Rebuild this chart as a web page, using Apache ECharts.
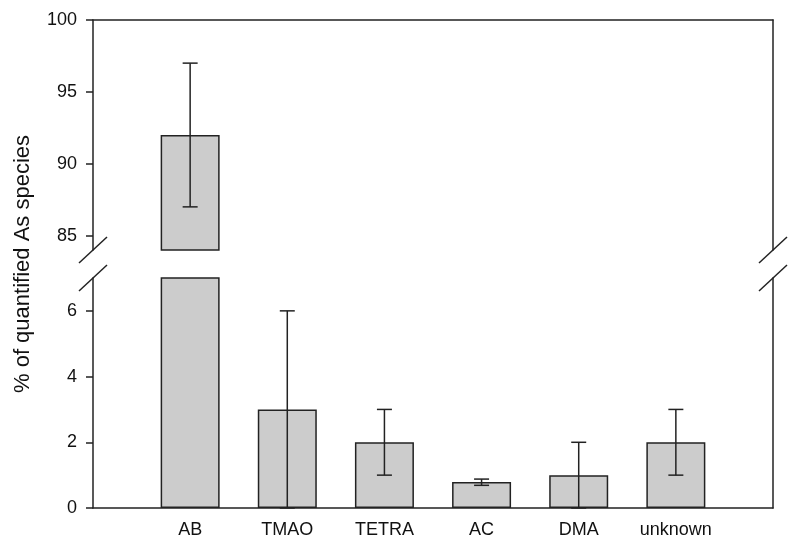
<!DOCTYPE html>
<html>
<head>
<meta charset="utf-8">
<script src="https://cdn.jsdelivr.net/npm/echarts@6/dist/echarts.min.js"></script>
<style>
  html, body { margin: 0; padding: 0; background: #fff; }
  #chart { width: 800px; height: 548px; }
</style>
</head>
<body>
<div id="chart"></div>
<script>
// data
const categories = ['AB', 'TMAO', 'TETRA', 'AC', 'DMA', 'unknown'];
const means = [92, 3, 2, 0.79, 1, 2];
const errLow = [87, 0, 1, 0.69, 0, 1];
const errHigh = [97, 6, 3, 0.88, 2, 3];
const upperTicks = [85, 90, 95, 100];
const lowerTicks = [0, 2, 4, 6];
const upperRange = [84, 100];
const lowerRange = [0, 7];

// layout
const L = 93, R = 773, T0 = 20, B0 = 250, T1 = 278, B1 = 508;
const ink = '#222';
const font = '"Liberation Sans", Arial, sans-serif';

// pad the category axis with an empty slot on each side
const axisCats = [''].concat(categories, ['']);
const pad = arr => ['-'].concat(arr, ['-']);

const upperBars = pad(means.map(v => (v > upperRange[0] ? v : '-')));
const lowerBars = pad(means);
const upperErr = [];
const lowerErr = [];
categories.forEach((c, i) => {
  if (errLow[i] >= upperRange[0]) upperErr.push([i + 1, errLow[i], errHigh[i]]);
  else if (errHigh[i] <= lowerRange[1]) lowerErr.push([i + 1, errLow[i], errHigh[i]]);
});

function errorItem(params, api) {
  const x = api.value(0);
  const lo = api.coord([x, api.value(1)]);
  const hi = api.coord([x, api.value(2)]);
  const half = 7.5;
  const st = { stroke: ink, lineWidth: 1.5 };
  return {
    type: 'group',
    children: [
      { type: 'line', shape: { x1: lo[0], y1: lo[1], x2: hi[0], y2: hi[1] }, style: st },
      { type: 'line', shape: { x1: hi[0] - half, y1: hi[1], x2: hi[0] + half, y2: hi[1] }, style: st },
      { type: 'line', shape: { x1: lo[0] - half, y1: lo[1], x2: lo[0] + half, y2: lo[1] }, style: st }
    ]
  };
}

const lineStyle = { color: ink, width: 1.5 };

function leftAxis(grid, range, ticks) {
  return {
    type: 'value', gridIndex: grid, position: 'left',
    min: range[0], max: range[1],
    axisLine: { show: true, lineStyle },
    axisTick: { show: true, inside: false, length: 7, lineStyle, customValues: ticks },
    axisLabel: { customValues: ticks, margin: 16, color: '#111', fontSize: 18, fontFamily: font },
    splitLine: { show: false }
  };
}
function rightAxis(grid, range) {
  return {
    type: 'value', gridIndex: grid, position: 'right',
    min: range[0], max: range[1],
    axisLine: { show: true, lineStyle },
    axisTick: { show: false }, axisLabel: { show: false }, splitLine: { show: false }
  };
}

const barStyle = { color: '#cccccc', borderColor: ink, borderWidth: 1.5 };

const slashes = [];
[L, R].forEach(x => {
  [B0, T1].forEach(y => {
    slashes.push({
      type: 'line',
      shape: { x1: x - 14, y1: y + 13, x2: x + 14, y2: y - 13 },
      style: { stroke: ink, lineWidth: 1.5 }
    });
  });
});

const chart = echarts.init(document.getElementById('chart'));
chart.setOption({
  animation: false,
  backgroundColor: '#fff',
  grid: [
    { left: L, right: 800 - R, top: T0, height: B0 - T0 },
    { left: L, right: 800 - R, top: T1, height: B1 - T1 }
  ],
  xAxis: [
    {
      type: 'category', gridIndex: 0, position: 'top', data: axisCats, boundaryGap: false,
      axisLine: { show: true, lineStyle }, axisTick: { show: false }, axisLabel: { show: false }
    },
    {
      type: 'category', gridIndex: 1, position: 'bottom', data: axisCats, boundaryGap: false,
      axisLine: { show: true, lineStyle }, axisTick: { show: false },
      axisLabel: { margin: 13, color: '#111', fontSize: 18, fontFamily: font, interval: 0 }
    }
  ],
  yAxis: [
    leftAxis(0, upperRange, upperTicks),
    leftAxis(1, lowerRange, lowerTicks),
    rightAxis(0, upperRange),
    rightAxis(1, lowerRange)
  ],
  series: [
    { type: 'bar', xAxisIndex: 0, yAxisIndex: 0, data: upperBars, barWidth: 59, itemStyle: barStyle },
    { type: 'bar', xAxisIndex: 1, yAxisIndex: 1, data: lowerBars, barWidth: 59, itemStyle: barStyle },
    { type: 'custom', xAxisIndex: 0, yAxisIndex: 0, data: upperErr, renderItem: errorItem, z: 5 },
    { type: 'custom', xAxisIndex: 1, yAxisIndex: 1, data: lowerErr, renderItem: errorItem, z: 5 }
  ],
  graphic: slashes.concat([
    {
      type: 'text', x: 23, y: 264, rotation: Math.PI / 2,
      style: {
        text: '% of quantified As species', fill: '#111',
        font: '22px ' + font, textAlign: 'center', textVerticalAlign: 'middle'
      }
    }
  ])
});
</script>
</body>
</html>
